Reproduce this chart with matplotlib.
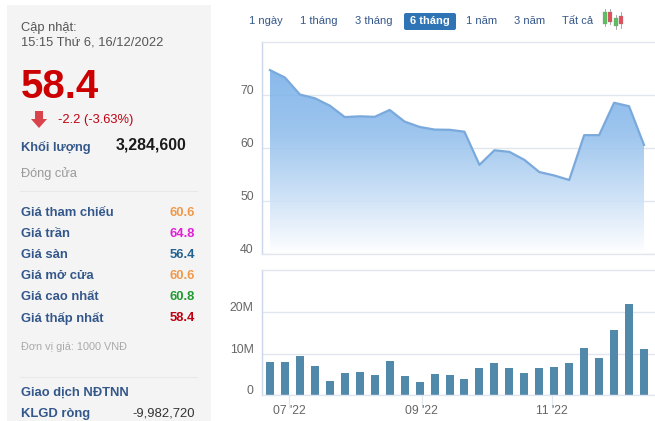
# -*- coding: utf-8 -*-
import matplotlib
matplotlib.use("Agg")
import numpy as np
import pandas as pd
import matplotlib.pyplot as plt
import matplotlib.dates as mdates
from matplotlib.patches import Rectangle, FancyBboxPatch, Polygon
from matplotlib.colors import LinearSegmentedColormap
from matplotlib.transforms import ScaledTranslation

plt.rcParams["font.family"] = ["Liberation Sans", "DejaVu Sans"]

W, H = 655, 421

dates = pd.date_range("2022-06-22", periods=26, freq="7D")
prices = [74.7, 73.3, 70.1, 69.4, 68.0, 65.85, 66.0, 65.9, 67.2, 65.0, 64.0, 63.5, 63.46,
          63.1, 56.85, 59.6, 59.3, 57.8, 55.5, 54.85, 54.0, 62.45, 62.45, 68.55, 67.9, 60.6]
volumes = [8.0, 8.0, 9.5, 7.1, 3.45, 5.4, 5.6, 4.9, 8.3, 4.65, 3.2, 5.15, 4.9,
           3.9, 6.6, 7.8, 6.6, 5.4, 6.6, 6.8, 7.8, 11.4, 9.0, 15.7, 22.0, 11.2]
price_ticks = [40, 50, 60, 70]
volume_ticks = [0, 10, 20]
volume_labels = ["0", "10M", "20M"]
month_ticks = pd.to_datetime(["2022-07-01", "2022-09-01", "2022-11-01"])
month_labels = ["07 '22", "09 '22", "11 '22"]

ranges = ["1 ngày", "1 tháng", "3 tháng", "6 tháng", "1 năm", "3 năm", "Tất cả"]
range_x = [266, 319, 374, 430, 482, 530, 578]

stats = ["Giá tham chiếu", "Giá trần", "Giá sàn", "Giá mở cửa", "Giá cao nhất", "Giá thấp nhất"]
stat_values = ["60.6", "64.8", "56.4", "60.6", "60.8", "58.4"]
stat_colors = ["#f0994a", "#e21fd8", "#24628f", "#f0994a", "#1f9a2e", "#c00012"]

GRID = "#e1e6ee"
LABEL = "#666666"
BLUE = "#33578a"
RED = "#cc0000"
PX_PER_POINT = 14.96

fig = plt.figure(figsize=(W / 100, H / 100), dpi=100, facecolor="white")

# overlay in pixel coords for the side panel and the range buttons
bg = fig.add_axes([0, 0, 1, 1])
bg.set_xlim(0, W)
bg.set_ylim(H, 0)
bg.axis("off")

bg.add_patch(Rectangle((7, 5), 204, H - 5, fc="#f4f4f4", ec="none"))
bg.plot([20, 197], [191, 191], color="#e8e8e8", lw=0.8)
bg.plot([20, 197], [376.5, 376.5], color="#e8e8e8", lw=0.8)


def txt(x, y, s, size=8.6, color="#333333", weight="normal", ha="left"):
    bg.text(x, y, s, fontsize=size, color=color, fontweight=weight, ha=ha, va="center")


txt(21, 28, "Cập nhật:", color="#555555", size=9.3)
txt(21, 42.5, "15:15 Thứ 6, 16/12/2022", color="#555555", size=9.3)
txt(21, 87, "58.4", size=29, color=RED, weight="bold")
txt(58, 119.5, "-2.2 (-3.63%)", size=9.3, color="#c00012")
bg.add_patch(Polygon([[35, 111], [43, 111], [43, 119], [47, 119], [39, 128], [31, 119], [35, 119]],
                     fc="#d9444c", ec="none"))
txt(21, 147, "Khối lượng", size=9.3, color=BLUE, weight="bold")
txt(186, 144.5, "3,284,600", size=11.4, color="#1a1a1a", weight="bold", ha="right")
txt(21, 174, "Đóng cửa", size=9.2, color="#999999")

for i in range(len(stats)):
    y = 213 + i * 21
    txt(21, y, stats[i], size=9.4, color=BLUE, weight="bold")
    txt(195, y, stat_values[i], size=9.4, color=stat_colors[i], weight="bold", ha="right")

txt(21, 347.5, "Đơn vị giá: 1000 VNĐ", size=7.8, color="#aaaaaa")
txt(21, 393, "Giao dịch NĐTNN", size=9.4, color=BLUE, weight="bold")
txt(21, 414.5, "KLGD ròng", size=9.4, color=BLUE, weight="bold")
txt(195, 414, "-9,982,720", size=9.4, color="#333333", ha="right")

# range buttons
bg.add_patch(FancyBboxPatch((404, 13), 52, 17, boxstyle="round,pad=0,rounding_size=2",
                            fc="#2f75b5", ec="none"))
for i in range(len(ranges)):
    active = ranges[i] == "6 tháng"
    bg.text(range_x[i], 21.5, ranges[i], fontsize=8, ha="center", va="center",
            color="white" if active else BLUE, fontweight="bold" if active else "normal")

# little candlestick icon
for x, y0, y1, y2, y3, c in [(605, 9, 12, 24, 26, "#5cc05f"), (610, 9, 12, 22, 24, "#e0505a"),
                             (616, 15, 18, 26, 29, "#5cc05f"), (621, 12, 16, 24, 28, "#e0505a")]:
    bg.plot([x, x], [y0, y3], color="#999999", lw=0.6)
    bg.add_patch(Rectangle((x - 2, y1), 4, y2 - y1, fc=c, ec="#888888", lw=0.2, zorder=3))


def make_axes(top, bottom):
    left, right = 262, 655
    ax = fig.add_axes([left / W, 1 - bottom / H, (right - left) / W, (bottom - top) / H])
    ax.patch.set_alpha(0)
    ax.grid(axis="y", color=GRID, lw=1)
    ax.set_axisbelow(True)
    for s in ["top", "left", "bottom"]:
        ax.spines[s].set_color(GRID)
        ax.spines[s].set_linewidth(1)
    ax.spines["left"].set_color("#ccd6eb")
    ax.spines["right"].set_visible(False)
    ax.tick_params(axis="y", length=0, labelsize=8.8, labelcolor=LABEL, pad=6)
    # weekly points, first one 8 px in from the axis
    x0 = mdates.date2num(dates[0]) - 8 * 7 / PX_PER_POINT
    ax.set_xlim(x0, x0 + (right - left) * 7 / PX_PER_POINT)
    return ax


def raise_labels(ax):
    # tick labels sit a little above their gridline
    for lab in ax.get_yticklabels():
        lab.set_transform(lab.get_transform() + ScaledTranslation(0, 0.055, fig.dpi_scale_trans))


# price chart
ax1 = make_axes(42, 254.3)
ax1.set_ylim(40, 80)
ax1.set_yticks(price_ticks)
ax1.set_xticks([])
x = mdates.date2num(dates)
poly = ax1.fill_between(x, prices, 40, color="none")
cmap = LinearSegmentedColormap.from_list("area", ["#ffffff", "#c4dcf5", "#8fbdec", "#78afe9"])
img = ax1.imshow(np.linspace(0, 1, 256).reshape(-1, 1), cmap=cmap, origin="lower", aspect="auto",
                 extent=[x[0], x[-1], 40, max(prices)], zorder=1, alpha=0.88)
img.set_clip_path(poly.get_paths()[0], transform=ax1.transData)
ax1.set_xlim(x[0] - 8 * 7 / PX_PER_POINT, x[0] - 8 * 7 / PX_PER_POINT + 393 * 7 / PX_PER_POINT)
ax1.set_ylim(40, 80)
ax1.plot(x, prices, color="#7aa9dc", lw=1.6, zorder=2, solid_joinstyle="round")
raise_labels(ax1)

# volume chart
ax2 = make_axes(270.3, 395.3)
ax2.set_ylim(0, 30)
ax2.bar(x, volumes, width=8 * 7 / PX_PER_POINT, color="#5189ab", zorder=2)
ax2.set_yticks(volume_ticks)
ax2.set_yticklabels(volume_labels)
ax2.set_xticks(mdates.date2num(month_ticks))
ax2.set_xticklabels(month_labels)
ax2.tick_params(axis="x", length=9, color=GRID, labelsize=8.8, labelcolor=LABEL, pad=-2)
raise_labels(ax2)

fig.savefig("out.png", dpi=100)
